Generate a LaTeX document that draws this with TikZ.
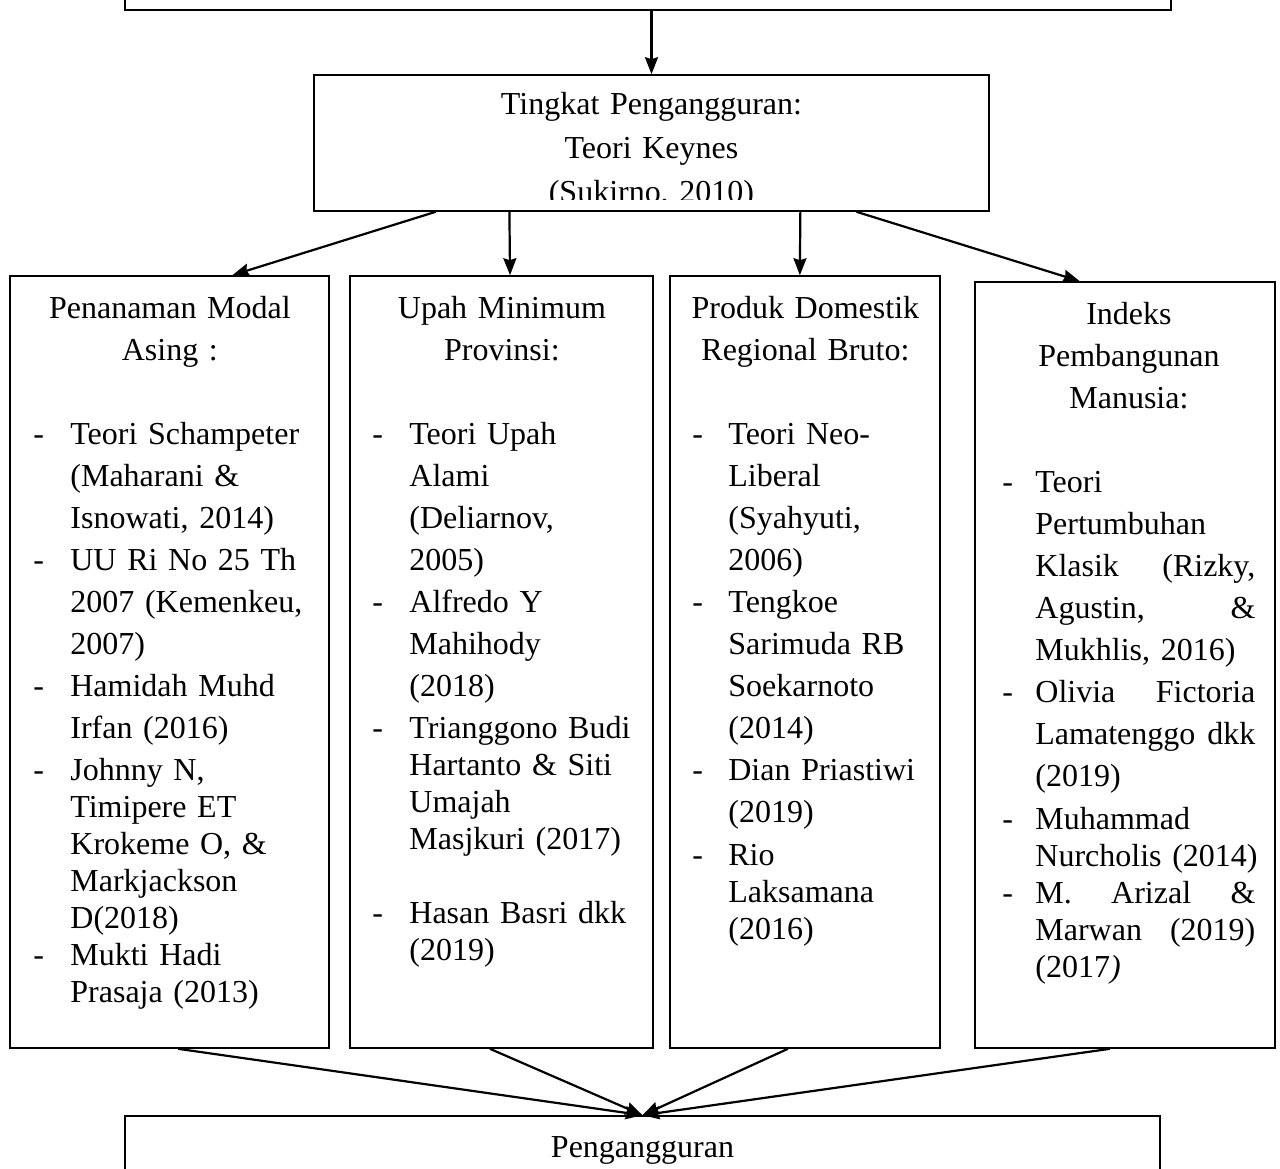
\documentclass[tikz,border=0pt]{standalone}
\usepackage{fontspec}
\setmainfont{Liberation Serif}
\usetikzlibrary{arrows.meta,calc}
\newlength{\tarik}
% one item of a list: dash, then hanging text
\newcommand{\butir}[2][21pt]{\par\fontsize{16}{#1}\selectfont
  \hangindent=\tarik\hangafter=1\noindent\makebox[\tarik][l]{-}#2\par}
% a justified line inside an item (words split by \hfill)
\newcommand{\rata}[1]{\hbox to \dimexpr\linewidth-\tarik\relax{#1}}
% a centred heading line that never breaks
\newcommand{\judul}[1]{\makebox[\linewidth]{#1}}

\begin{document}
\begin{tikzpicture}[x=0.5pt, y=-0.5pt,
  kotak/.style={draw, line width=0.8pt, inner sep=0pt},
  isi/.style={anchor=base west, inner sep=0pt, font=\fontsize{16}{21}\selectfont},
  panah/.style={-{Stealth[length=8.5pt, width=6.5pt, inset=1pt]}, line width=1.1pt}]
\useasboundingbox (0,0) rectangle (1280,1168);
% ---------------- top ----------------
\node[kotak, minimum width=523pt, minimum height=50pt] (atas) at (648,-40) {};
\node[kotak, minimum width=337.5pt, minimum height=68pt] (tingkat) at (651.5,143) {};
\begin{scope}
\clip (314,75) rectangle (989,199);
\node[anchor=base, inner sep=0pt, text width=337.5pt, align=center,
  font=\fontsize{16}{22}\selectfont] (tingkat-isi) at (651.5,114)
  {Tingkat Pengangguran:\\ Teori Keynes\\ (Sukirno, 2010)};
\end{scope}
% ---------------- the four variables ----------------
\node[kotak, minimum width=159.5pt, minimum height=386pt] (pma) at (169.5,662) {};
\node[kotak, minimum width=151.5pt, minimum height=386pt] (ump) at (501.5,662) {};
\node[kotak, minimum width=135pt, minimum height=386pt] (pdrb) at (805,662) {};
\node[kotak, minimum width=150pt, minimum height=383pt] (ipm) at (1125,665) {};
\node[isi, text width=136.5pt] (pma-isi) at (33,318) {\setlength{\tarik}{18.5pt}%
  \judul{Penanaman Modal}\newline \judul{Asing :}\par\vspace{21pt}\raggedright
  \butir{Teori~Schampeter\newline (Maharani~\&\newline Isnowati,~2014)}
  \butir{UU~Ri~No~25~Th\newline 2007~(Kemenkeu,\newline 2007)}
  \butir{Hamidah~Muhd\newline Irfan~(2016)}
  \vspace{2.5pt}
  \butir[18.5pt]{Johnny~N,\newline Timipere~ET\newline Krokeme~O,~\&\newline
    Markjackson\newline D(2018)}
  \butir[18.5pt]{Mukti~Hadi\newline Prasaja~(2013)}};
\node[isi, text width=129.5pt] (ump-isi) at (372,318) {\setlength{\tarik}{18.5pt}%
  \judul{Upah Minimum}\newline \judul{Provinsi:}\par\vspace{21pt}\raggedright
  \butir{Teori~Upah\newline Alami\newline (Deliarnov,\newline 2005)}
  \butir{Alfredo~Y\newline Mahihody\newline (2018)}
  \vspace{2.5pt}
  \butir[18.5pt]{Trianggono~Budi\newline Hartanto~\&~Siti\newline Umajah\newline
    Masjkuri~(2017)}
  \vspace{18.5pt}
  \butir[18.5pt]{Hasan~Basri~dkk\newline (2019)}};
\node[isi, text width=113pt] (pdrb-isi) at (692,318) {\setlength{\tarik}{18pt}%
  \judul{Produk Domestik}\newline \judul{Regional Bruto:}\par\vspace{21pt}\raggedright
  \butir{Teori~Neo-\newline Liberal\newline (Syahyuti,\newline 2006)}
  \butir{Tengkoe\newline Sarimuda~RB\newline Soekarnoto\newline (2014)}
  \butir{Dian~Priastiwi\newline (2019)}
  \vspace{3pt}
  \butir[18.5pt]{Rio\newline Laksamana\newline (2016)}};
\node[isi, text width=126.5pt] (ipm-isi) at (1002,324) {\setlength{\tarik}{16.5pt}%
  \judul{Indeks}\newline \judul{Pembangunan}\newline \judul{Manusia:}\par
  \vspace{21pt}\raggedright
  \butir{Teori\newline Pertumbuhan\newline \rata{Klasik\hfill(Rizky,}\newline
    \rata{Agustin,\hfill\&}\newline Mukhlis,~2016)}
  \butir{\rata{Olivia\hfill Fictoria}\newline \rata{Lamatenggo\hfill dkk}\newline (2019)}
  \vspace{3pt}
  \butir[18.5pt]{Muhammad\newline Nurcholis~(2014)}
  \butir[18.5pt]{\rata{M.\hfill Arizal\hfill\&}\newline \rata{Marwan\hfill(2019)}\newline
    (2017\textit{)}}};
% ---------------- bottom ----------------
\node[kotak, minimum width=517.5pt, minimum height=50pt] (akhir) at (642.5,1166) {};
\node[anchor=base, inner sep=0pt, font=\fontsize{16}{21}\selectfont] (akhir-isi)
  at (642.5,1157) {Pengangguran};
% ---------------- arrows ----------------
\draw[panah] (atas.south -| tingkat.north) -- (tingkat.north);
\draw[panah] ($(tingkat.south west)!0.181!(tingkat.south east)$) --
  ($(pma.north west)!0.696!(pma.north east)$);
\draw[panah] ($(tingkat.south west)!0.29!(tingkat.south east)$) --
  ($(ump.north west)!0.528!(ump.north east)$);
\draw[panah] ($(tingkat.south west)!0.72!(tingkat.south east)$) --
  ($(pdrb.north west)!0.481!(pdrb.north east)$);
\draw[panah] ($(tingkat.south west)!0.803!(tingkat.south east)$) --
  ($(ipm.north west)!0.35!(ipm.north east)$);
\foreach \var/\pos in {pma/0.527, ump/0.462, pdrb/0.437, ipm/0.45}
  \draw[panah] ($(\var.south west)!\pos!(\var.south east)$) -- (akhir.north);
\end{tikzpicture}
\end{document}
